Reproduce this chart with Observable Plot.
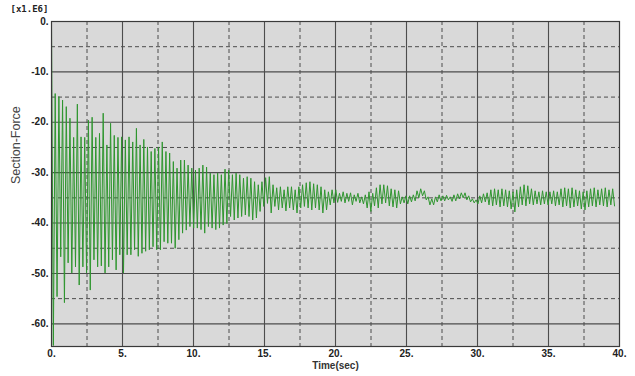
<!DOCTYPE html>
<html>
<head>
<meta charset="utf-8">
<script src="https://cdn.jsdelivr.net/npm/d3@7"></script>
<script src="https://cdn.jsdelivr.net/npm/@observablehq/plot@0.6"></script>
<style>
  html, body { margin: 0; padding: 0; background: #ffffff; }
  #chart { width: 635px; height: 376px; }
</style>
</head>
<body>
<div id="chart"></div>
<script>
// ---- data ----
const sampleStep = 0.13;            // seconds between successive extremes
const startValues = [0, -64.3];     // initial load step at t = 0

// local maxima (one per cycle), grouped by ~5 s windows
const peaks = [
  // 0-5 s
  -14.3, -14.9, -15.6, -16.9, -19.2, -23.0, -16.4, -22.9, -23.0, -19.6, -19.0, -23.0, -22.2, -18.2, -24.5, -20.2, -22.6, -23.0, -22.9,
  // 5-10 s
  -23.5, -22.9, -23.9, -21.2, -24.5, -23.4, -24.9, -25.8, -25.2, -24.9, -23.9, -25.8, -26.1, -27.8, -29.1, -27.5, -27.5, -28.5, -29.1,
  // 10-15 s
  -29.5, -29.1, -28.5, -28.9, -30.1, -30.4, -30.1, -30.4, -29.3, -29.5, -30.4, -30.1, -30.4, -31.1, -30.8, -31.1, -31.8, -32.4, -31.8,
  // 15-20 s
  -31.0, -30.8, -32.4, -33.0, -32.8, -33.4, -32.8, -32.8, -33.4, -32.8, -32.4, -32.0, -31.8, -32.2, -32.4, -32.8, -33.4, -33.8, -33.4,
  // 20-25 s
  -33.4, -34.1, -33.8, -34.1, -34.0, -34.4, -34.1, -34.8, -34.4, -33.8, -34.1, -33.0, -32.4, -32.4, -32.6, -33.2, -33.4, -33.6, -34.8, -34.6,
  // 25-30 s
  -34.6, -34.4, -33.6, -33.2, -33.6, -34.8, -35.2, -34.8, -34.4, -34.6, -34.5, -34.8, -34.4, -34.2, -34.0, -34.0, -34.6, -35.2, -35.4,
  // 30-35 s
  -34.6, -34.2, -34.0, -33.4, -33.2, -33.4, -33.2, -33.4, -33.6, -33.8, -33.4, -32.8, -32.4, -32.6, -33.2, -33.6, -33.8, -33.6, -33.8,
  // 35-39.6 s
  -33.8, -33.6, -33.8, -33.2, -33.0, -33.2, -33.0, -33.4, -33.6, -33.8, -33.6, -33.2, -33.0, -33.4, -33.2, -33.0, -33.4, -33.2
];

// local minima (one per cycle)
const troughs = [
  // 0-5 s
  -54.6, -46.7, -55.8, -47.9, -49.9, -48.7, -52.3, -48.7, -49.9, -53.3, -47.3, -48.7, -48.5, -49.9, -48.7, -47.3, -49.3, -46.3, -49.9,
  // 5-10 s
  -46.3, -46.3, -45.3, -46.6, -46.0, -45.6, -45.3, -44.7, -45.3, -45.3, -43.7, -44.0, -44.0, -45.0, -43.3, -42.0, -41.4, -40.7, -41.0,
  // 10-15 s
  -41.0, -41.3, -42.0, -40.7, -41.0, -41.3, -41.0, -40.4, -40.1, -38.7, -39.4, -39.0, -38.7, -38.4, -38.7, -39.4, -39.0, -37.7, -36.7,
  // 15-20 s
  -36.1, -38.0, -36.7, -37.4, -37.0, -37.6, -37.0, -37.4, -38.0, -37.0, -36.7, -37.0, -37.4, -37.0, -37.4, -38.0, -37.4, -36.4, -36.0,
  // 20-25 s
  -35.9, -35.7, -36.0, -35.7, -36.4, -35.7, -36.0, -36.2, -37.0, -37.7, -36.6, -37.0, -36.2, -36.0, -36.6, -36.8, -37.0, -36.2, -36.0, -36.2,
  // 25-30 s
  -35.8, -35.6, -35.0, -34.6, -35.4, -36.4, -36.4, -35.8, -35.6, -35.6, -35.4, -35.7, -35.6, -35.2, -35.0, -35.4, -35.8, -36.0, -36.2,
  // 30-35 s
  -36.0, -35.8, -36.4, -36.6, -36.4, -36.8, -36.6, -36.8, -37.2, -37.8, -36.8, -36.4, -36.6, -36.2, -36.4, -36.2, -36.4, -36.2, -36.4,
  // 35-39.6 s
  -36.2, -36.6, -36.4, -36.8, -36.6, -37.0, -36.8, -36.6, -37.2, -37.4, -36.8, -36.6, -36.8, -36.4, -36.6, -36.8, -36.4, -36.6
];

const xTicks = [0, 5, 10, 15, 20, 25, 30, 35, 40];
const yTicks = [0, -10, -20, -30, -40, -50, -60];
const xMajor = [5, 10, 15, 20, 25, 30, 35];
const xMinor = [2.5, 7.5, 12.5, 17.5, 22.5, 27.5, 32.5, 37.5];
const yMajor = [-10, -20, -30, -40, -50, -60];
const yMinor = [-5, -15, -25, -35, -45, -55];
const xDomain = [0, 40];
const yDomain = [-64.5, 0];
const xTitle = "Time(sec)";
const yTitle = "Section-Force";
const scaleNote = "[x1.E6]";

// ---- build the series ----
const values = [...startValues];
for (let k = 0; k < peaks.length; k++) { values.push(peaks[k], troughs[k]); }
const series = values.map((v, i) => ({t: i * sampleStep, v}));

const gridColor = "#4d4d4d";
const chart = Plot.plot({
  width: 635,
  height: 376,
  marginLeft: 51,
  marginRight: 16,
  marginTop: 21,
  marginBottom: 30,
  style: {fontFamily: "'Liberation Sans', Arial, sans-serif", fontSize: "10px", fontWeight: "bold", color: "#222", background: "#fff"},
  x: {domain: xDomain},
  y: {domain: yDomain},
  marks: [
    Plot.frame({fill: "#d9d9d9", stroke: null}),
    Plot.ruleX(xMinor, {stroke: gridColor, strokeWidth: 1, strokeDasharray: "4,3"}),
    Plot.ruleY(yMinor, {stroke: gridColor, strokeWidth: 1, strokeDasharray: "4,3"}),
    Plot.ruleX(xMajor, {stroke: gridColor, strokeWidth: 1.1}),
    Plot.ruleY(yMajor, {stroke: gridColor, strokeWidth: 1.1}),
    Plot.line(series, {x: "t", y: "v", stroke: "#2f962f", strokeWidth: 1, clip: true}),
    Plot.frame({stroke: "#3a3a3a", strokeWidth: 1.2}),
    Plot.axisX(xTicks, {tickSize: 0, tickPadding: 3, tickFormat: d => d + ".", label: null, fontWeight: "bold"}),
    Plot.axisY(yTicks, {tickSize: 0, tickPadding: 3, tickFormat: d => d + ".", label: null, fontWeight: "bold"}),
    Plot.text([xTitle], {frameAnchor: "bottom", dy: 19, lineAnchor: "middle", text: d => d, fontSize: 10, fontWeight: "bold", fill: "#333"}),
    Plot.text([yTitle], {frameAnchor: "left", dx: -36, rotate: -90, text: d => d, fontSize: 12.5, fontWeight: "normal", fill: "#444"}),
    Plot.text([scaleNote], {frameAnchor: "top-left", dx: -41, dy: -12, lineAnchor: "middle", textAnchor: "start", text: d => d, fontFamily: "'DejaVu Sans Mono', monospace", fontSize: 9, fontWeight: "bold", fill: "#222"})
  ]
});
document.getElementById("chart").appendChild(chart);
</script>
</body>
</html>
